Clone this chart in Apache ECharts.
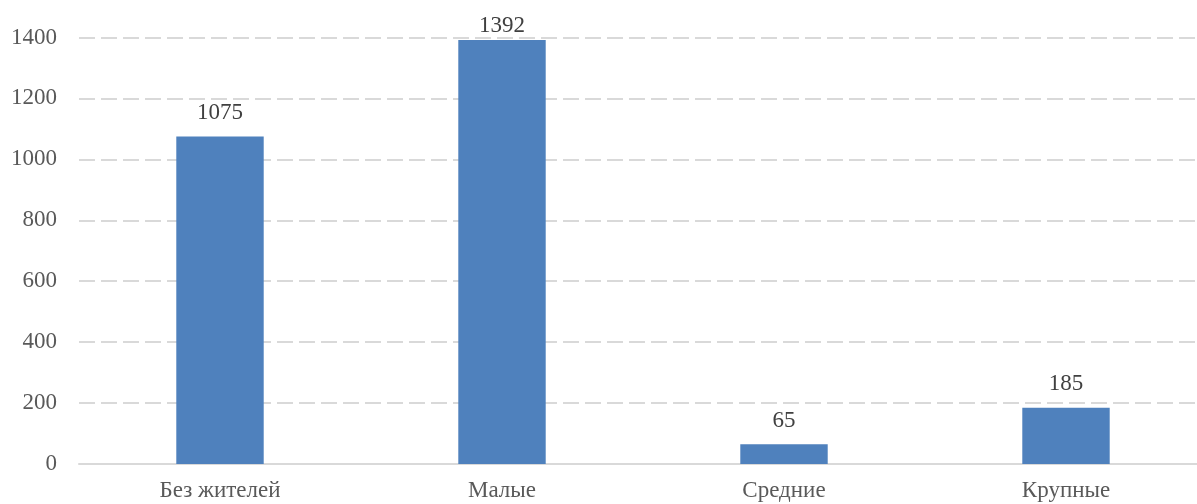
<!DOCTYPE html>
<html>
<head>
<meta charset="utf-8">
<script src="https://cdn.jsdelivr.net/npm/echarts@6/dist/echarts.min.js"></script>
<style>
  html, body { margin: 0; padding: 0; background: #fff; }
  #chart { width: 1197px; height: 504px; }
</style>
</head>
<body>
<div id="chart"></div>
<script>
// категории и значения
const categories = ['Без жителей', 'Малые', 'Средние', 'Крупные']
const values = [1075, 1392, 65, 185]

const chart = echarts.init(document.getElementById('chart'))
const font = '"Liberation Serif", "Times New Roman", serif'
const maxVal = Math.max(...values)

chart.setOption({
  animation: false,
  textStyle: { fontFamily: font },
  // сетка немного выходит за правый край, как в оригинале
  grid: { left: 79, width: 1128, top: 37.5, bottom: 40, outerBoundsMode: 'none', containLabel: false },
  xAxis: {
    type: 'category',
    data: categories,
    axisTick: { show: false },
    axisLine: { lineStyle: { color: '#d9d9d9', width: 2 } },
    axisLabel: { color: '#595959', fontSize: 23, fontFamily: font, margin: 15 }
  },
  yAxis: {
    type: 'value',
    min: 0,
    max: 1400,
    interval: 200,
    axisLine: { show: false },
    axisTick: { show: false },
    axisLabel: {
      color: '#595959',
      fontSize: 23,
      fontFamily: font,
      margin: 22,
      formatter: v => String(v)
    },
    splitLine: { lineStyle: { color: '#d9d9d9', width: 2, type: [16, 6] } }
  },
  series: [{
    type: 'bar',
    // у самого высокого столбца подпись прижата ближе, чтобы не вылезать за край
    data: values.map(v => (v === maxVal ? { value: v, label: { distance: 2 } } : v)),
    barWidth: '31%',
    itemStyle: { color: '#4f81bd' },
    label: {
      show: true,
      position: 'top',
      distance: 12,
      color: '#404040',
      fontSize: 23,
      fontFamily: font
    }
  }]
})
</script>
</body>
</html>
